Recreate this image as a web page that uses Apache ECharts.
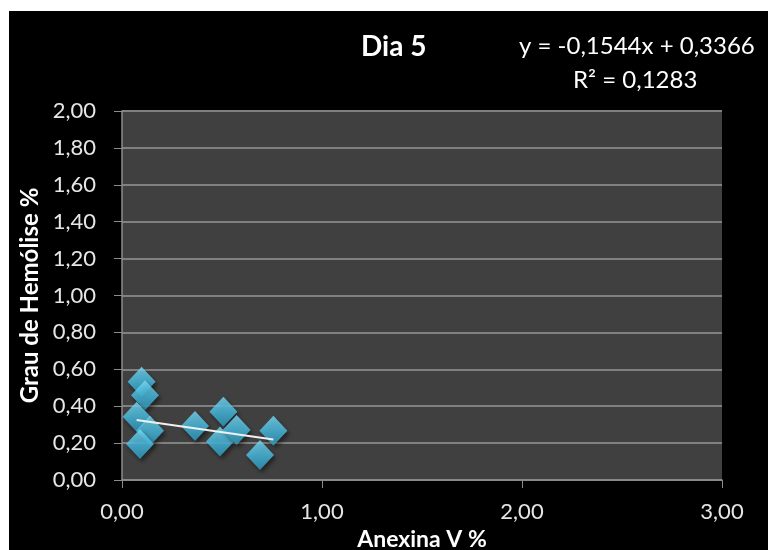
<!DOCTYPE html>
<html>
<head>
<meta charset="utf-8">
<script src="https://cdn.jsdelivr.net/npm/echarts@6/dist/echarts.min.js"></script>
<style>
html,body{margin:0;padding:0;background:#ffffff;}
#chart{width:768px;height:550px;}
</style>
</head>
<body>
<div id="chart"></div>
<script>
// Data
var xValues = [0.098, 0.115, 0.073, 0.140, 0.090, 0.365, 0.507, 0.490, 0.573, 0.690, 0.757];
var yValues = [0.533, 0.460, 0.343, 0.267, 0.195, 0.293, 0.370, 0.208, 0.271, 0.136, 0.267];
var trendCoef = [-0.1544, 0.3366]; // slope, intercept
var titleText = 'Dia 5';
var equationLines = ['y = -0,1544x + 0,3366', 'R² = 0,1283'];
var xAxisName = 'Anexina V %';
var yAxisName = 'Grau de Hemólise %';

var points = xValues.map(function (x, i) { return [x, yValues[i]]; });
var xMin = Math.min.apply(null, xValues), xMax = Math.max.apply(null, xValues);
var trend = [[xMin, trendCoef[0] * xMin + trendCoef[1]], [xMax, trendCoef[0] * xMax + trendCoef[1]]];

function fmt(v) { return v.toFixed(2).replace('.', ','); }

var FONT = 'Lato, "Open Sans", sans-serif';
var chart = echarts.init(document.getElementById('chart'));
chart.setOption({
  backgroundColor: '#ffffff',
  animation: false,
  graphic: [
    { type: 'rect', z: -100, shape: { x: 9, y: 11, width: 759, height: 539 }, style: { fill: '#000000' } },
    { type: 'text', left: 361, top: 33, style: { text: titleText, fill: '#ffffff', font: 'bold 28px ' + FONT } },
    { type: 'text', left: 519, top: 34, style: { text: equationLines[0], fill: '#ffffff', font: '24px ' + FONT } },
    { type: 'text', left: 573, top: 68, style: { text: equationLines[1], fill: '#ffffff', font: '24px ' + FONT } }
  ],
  grid: { left: 122, right: 46, top: 111, bottom: 70, show: true, backgroundColor: '#404040', borderWidth: 0, containLabel: false, outerBoundsMode: 'none' },
  xAxis: {
    type: 'value', min: 0, max: 3, interval: 1,
    name: xAxisName, nameLocation: 'middle', nameGap: 47,
    nameTextStyle: { color: '#ffffff', fontSize: 23, fontWeight: 'bold', fontFamily: FONT },
    axisLine: { show: true, onZero: false, lineStyle: { color: '#8c8c8c', width: 1.5 } },
    axisTick: { show: true, length: 8, lineStyle: { color: '#8c8c8c' } },
    axisLabel: { color: '#e6e6e6', fontSize: 22, fontFamily: FONT, margin: 21, formatter: fmt },
    splitLine: { show: false }
  },
  yAxis: {
    type: 'value', min: 0, max: 2, interval: 0.2,
    name: yAxisName, nameLocation: 'middle', nameGap: 79, nameRotate: 90,
    nameTextStyle: { color: '#ffffff', fontSize: 24, fontWeight: 'bold', fontFamily: FONT },
    axisLine: { show: true, lineStyle: { color: '#8c8c8c', width: 1.5 } },
    axisTick: { show: true, length: 8, lineStyle: { color: '#8c8c8c' } },
    axisLabel: { color: '#e6e6e6', fontSize: 22, fontFamily: FONT, margin: 26, formatter: fmt },
    splitLine: { show: true, lineStyle: { color: '#808080', width: 2 } }
  },
  series: [
    {
      type: 'scatter', data: points, symbol: 'diamond', symbolSize: [28, 30], z: 2,
      itemStyle: {
        color: new echarts.graphic.LinearGradient(0, 0, 0, 1, [
          { offset: 0, color: '#7adcf7' },
          { offset: 0.5, color: '#4cc3e8' },
          { offset: 1, color: '#2f9cc2' }
        ]),
        shadowColor: 'rgba(0,0,0,0.6)', shadowBlur: 4, shadowOffsetX: 2, shadowOffsetY: 3
      }
    },
    {
      type: 'line', data: trend, symbol: 'none', z: 3,
      lineStyle: { color: '#f0f0f0', width: 2 }
    }
  ]
});
</script>
</body>
</html>
